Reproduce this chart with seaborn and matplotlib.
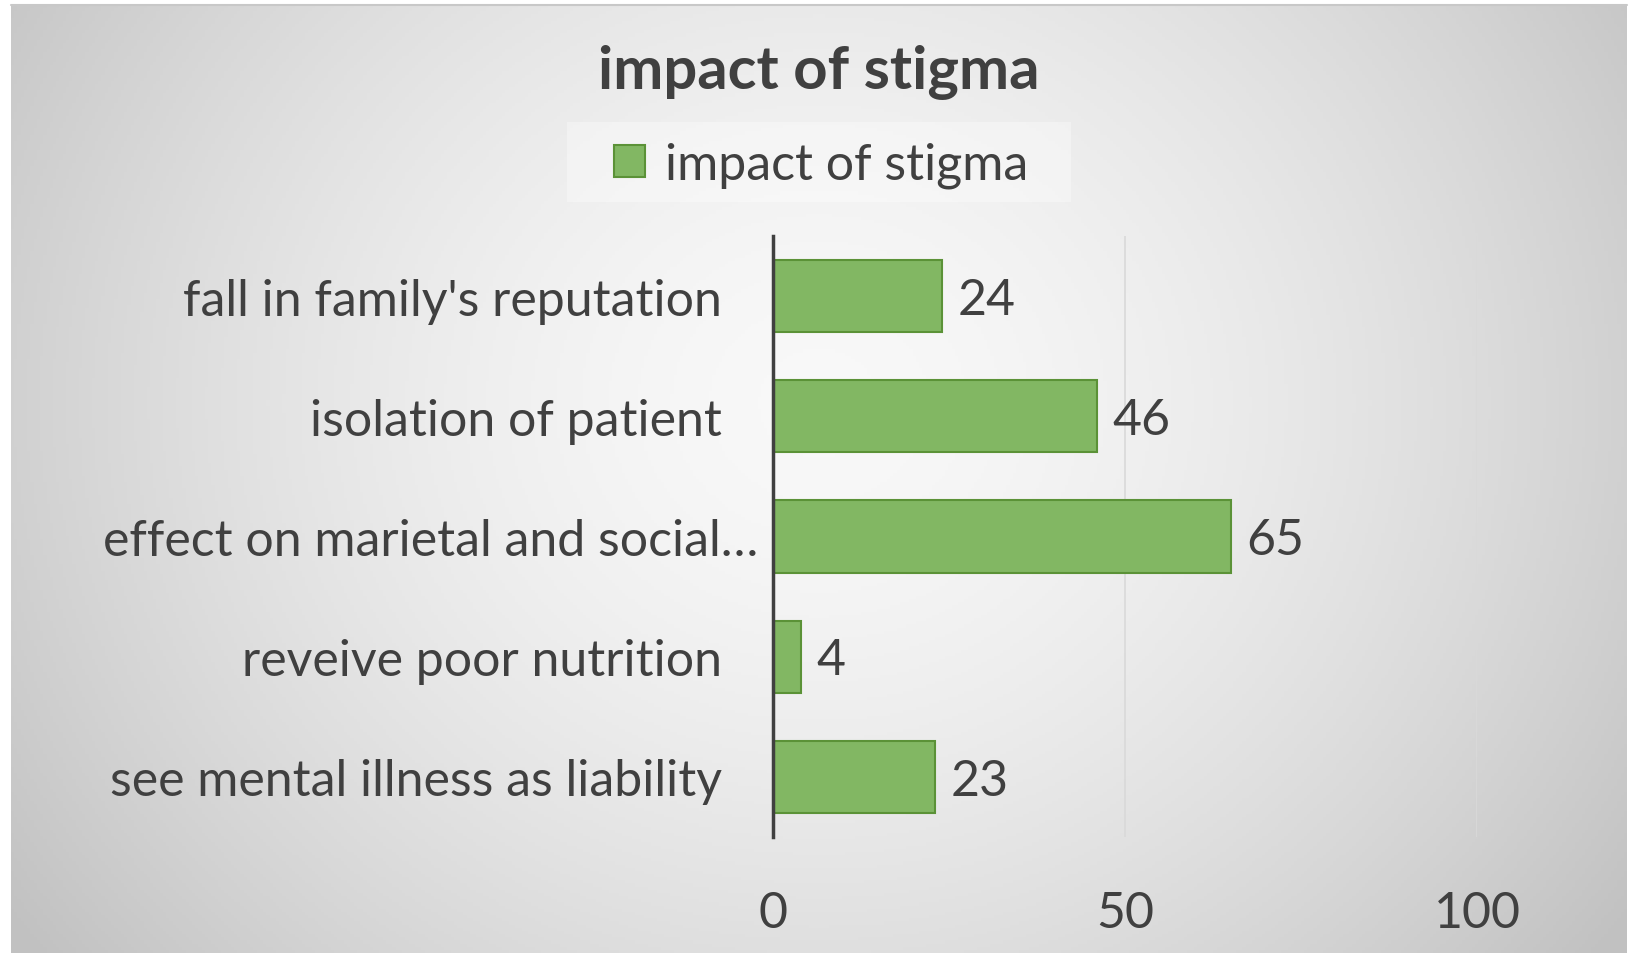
import numpy as np
import pandas as pd
import matplotlib
matplotlib.use("Agg")
import matplotlib.pyplot as plt
import matplotlib.transforms as mtransforms
from matplotlib.patches import Rectangle
import seaborn as sns

categories = ["fall in family's reputation", "isolation of patient",
              "effect on marietal and social\u2026", "reveive poor nutrition",
              "see mental illness as liability"]
values = [24, 46, 65, 4, 23]
series_name = "impact of stigma"
x_ticks = [0, 50, 100]

sns.set_theme(style="white")
plt.rcParams['font.family'] = ['Lato', 'DejaVu Sans']
TXT = '#404040'
FS = 36

W, H = 1631, 954
fig = plt.figure(figsize=(W / 100, H / 100), dpi=100)
fig.patch.set_facecolor('white')

# background gradient panel
bg = fig.add_axes([11 / W, 0, (1627 - 11) / W, 1 - 6 / H], zorder=-10)
yy, xx = np.mgrid[0:1:300j, 0:1:500j]
r = np.sqrt(((xx - 0.5) / 0.62) ** 2 + ((yy - 0.42) / 0.95) ** 2)
g = np.clip(0.975 - 0.22 * r ** 1.6, 0.76, 1)
bg.imshow(np.dstack([g, g, g]), aspect='auto', extent=[0, 1, 0, 1], origin='upper')
bg.set_axis_off()
fig.add_artist(plt.Line2D([11 / W, 1627 / W], [1 - 6 / H, 1 - 6 / H], color='#c8c8c8', lw=1.5))

# legend background panel
fig.add_artist(Rectangle((567 / W, 1 - 203 / H), (1071 - 567) / W, (203 - 123) / H,
                         transform=fig.transFigure, facecolor='white', alpha=0.35,
                         edgecolor='none', zorder=-5))

df = pd.DataFrame({"category": categories, "value": values})
ax = fig.add_axes([773 / W, 1 - 838 / H, (1477 - 773) / W, (838 - 237) / H])
ax.patch.set_alpha(0)
sns.barplot(data=df, y="category", x="value", orient="h", ax=ax, width=0.6,
            color='#82b763', edgecolor='#5b9237', linewidth=1.5, saturation=1,
            label=series_name, zorder=3)
ax.set_xlim(0, 100)
ax.set_ylim(4.5, -0.5)
ax.set_xticks(x_ticks)
ax.set_xticklabels([str(t) for t in x_ticks])
ax.set_xlabel("")
ax.set_ylabel("")
for v in x_ticks[1:]:
    ax.axvline(v, color='#d9d9d9', lw=1.2, zorder=1)
for s in ['top', 'right', 'bottom']:
    ax.spines[s].set_visible(False)
ax.spines['left'].set_color(TXT)
ax.spines['left'].set_linewidth(2.5)
ax.spines['left'].set_zorder(5)
ax.tick_params(axis='y', length=0, pad=37, labelsize=FS, labelcolor=TXT)
ax.tick_params(axis='x', length=0, pad=38, labelsize=FS, labelcolor=TXT)
ax.grid(False)

# truncated label sits closer to the axis
for lab in ax.get_yticklabels():
    if lab.get_text().endswith('\u2026'):
        lab.set_transform(lab.get_transform() + mtransforms.ScaledTranslation(37 / 100, 0, fig.dpi_scale_trans))

for i, v in enumerate(values):
    ax.text(v + 2.2, i + 0.03, str(v), va='center', ha='left', fontsize=FS, color=TXT)

fig.text(819 / W, 1 - 72 / H, "impact of stigma", ha='center', va='center',
         fontsize=43, fontweight='bold', color=TXT)

leg = ax.legend(loc='center', bbox_to_anchor=(821 / W, 1 - 166 / H),
                bbox_transform=fig.transFigure, frameon=False, fontsize=FS,
                handlelength=0.62, handleheight=0.62, handletextpad=0.4,
                borderpad=0.2, borderaxespad=0, labelcolor=TXT)

fig.savefig("out.png", dpi=100, facecolor=fig.get_facecolor())
